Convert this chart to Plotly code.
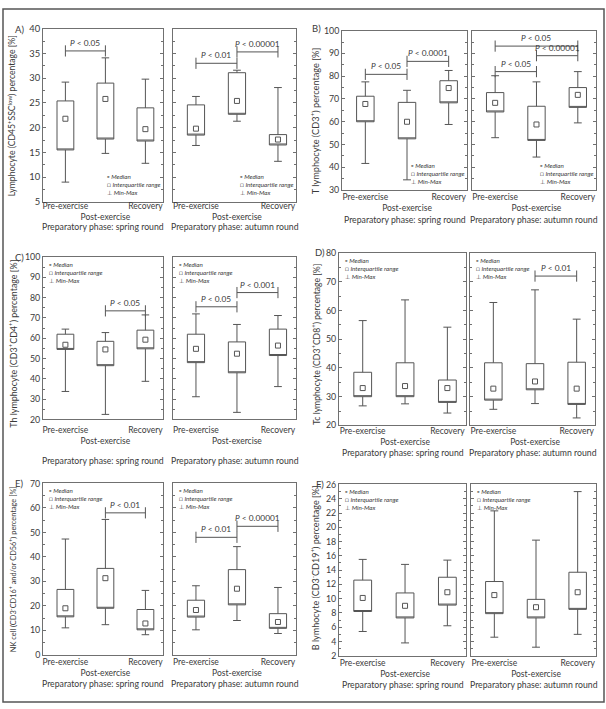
import plotly.graph_objects as go

W, H = 606, 709

# ---------------- data ----------------
categories = ["Pre-exercise", "Post-exercise", "Recovery"]
tick_text = ["Pre-exercise", "<br>Post-exercise", "Recovery"]
round_titles = ["Preparatory phase: spring round", "Preparatory phase: autumn round"]

# A) Lymphocyte (CD45+SSC low)
A_spring_min = [9.0, 14.8, 12.8]
A_spring_q1 = [15.5, 17.7, 17.3]
A_spring_med = [21.8, 25.8, 19.7]
A_spring_q3 = [25.4, 29.0, 24.0]
A_spring_max = [29.2, 34.1, 29.8]
A_autumn_min = [16.4, 21.3, 13.2]
A_autumn_q1 = [18.5, 22.7, 16.5]
A_autumn_med = [19.8, 25.4, 17.6]
A_autumn_q3 = [24.6, 31.1, 18.6]
A_autumn_max = [26.3, 31.6, 28.1]

# B) T lymphocyte (CD3+)
B_spring_min = [41.7, 34.5, 58.8]
B_spring_q1 = [60.0, 52.5, 68.3]
B_spring_med = [67.8, 60.0, 74.8]
B_spring_q3 = [71.2, 68.5, 78.0]
B_spring_max = [77.5, 73.8, 82.5]
B_autumn_min = [53.0, 44.5, 59.5]
B_autumn_q1 = [64.3, 51.8, 66.3]
B_autumn_med = [68.3, 58.8, 71.8]
B_autumn_q3 = [72.8, 66.8, 75.0]
B_autumn_max = [80.2, 77.5, 82.0]

# C) Th lymphocyte (CD3+CD4+)
C_spring_min = [33.8, 22.5, 38.8]
C_spring_q1 = [54.5, 46.5, 54.8]
C_spring_med = [56.8, 54.5, 59.3]
C_spring_q3 = [62.0, 58.5, 64.0]
C_spring_max = [64.5, 62.8, 71.5]
C_autumn_min = [31.2, 23.5, 36.2]
C_autumn_q1 = [48.0, 43.0, 51.5]
C_autumn_med = [54.8, 52.4, 56.4]
C_autumn_q3 = [62.0, 58.2, 64.5]
C_autumn_max = [72.0, 66.8, 71.2]

# D) Tc lymphocyte (CD3+CD8+)
D_spring_min = [26.8, 27.5, 24.3]
D_spring_q1 = [30.0, 30.0, 28.0]
D_spring_med = [33.0, 33.7, 33.0]
D_spring_q3 = [38.5, 41.8, 35.8]
D_spring_max = [56.5, 63.7, 54.2]
D_autumn_min = [25.6, 27.6, 22.6]
D_autumn_q1 = [28.8, 32.4, 27.3]
D_autumn_med = [32.8, 35.3, 32.8]
D_autumn_q3 = [41.8, 41.5, 42.0]
D_autumn_max = [62.8, 67.2, 57.0]

# E) NK cell
E_spring_min = [11.0, 12.3, 8.2]
E_spring_q1 = [15.5, 19.0, 10.2]
E_spring_med = [19.0, 31.3, 12.8]
E_spring_q3 = [26.7, 35.3, 18.5]
E_spring_max = [47.3, 55.3, 26.3]
E_autumn_min = [10.2, 14.0, 8.7]
E_autumn_q1 = [15.4, 20.4, 10.8]
E_autumn_med = [18.3, 27.0, 13.4]
E_autumn_q3 = [22.3, 34.8, 16.8]
E_autumn_max = [28.2, 44.2, 27.5]

# F) B lymphocyte (CD3-CD19+)
F_spring_min = [5.4, 3.8, 6.2]
F_spring_q1 = [8.2, 7.3, 9.1]
F_spring_med = [10.1, 9.0, 10.9]
F_spring_q3 = [12.6, 10.8, 13.0]
F_spring_max = [15.5, 14.8, 15.4]
F_autumn_min = [4.6, 3.2, 5.0]
F_autumn_q1 = [7.9, 7.3, 8.5]
F_autumn_med = [10.5, 8.8, 10.9]
F_autumn_q3 = [12.4, 9.9, 13.7]
F_autumn_max = [22.3, 18.2, 25.0]

# significance brackets: (from category, to category, level, label)
A_spring_sig = [(0, 1, 35.5, "P < 0.05")]
A_autumn_sig = [(0, 1, 33.0, "P < 0.01"), (1, 2, 35.3, "P < 0.00001")]
B_spring_sig = [(0, 1, 80.8, "P < 0.05"), (1, 2, 86.5, "P < 0.0001")]
B_autumn_sig = [(0, 1, 82.0, "P < 0.05"), (1, 2, 89.0, "P < 0.00001"), (0, 2, 93.2, "P < 0.05")]
C_spring_sig = [(1, 2, 73.5, "P < 0.05")]
C_autumn_sig = [(0, 1, 75.5, "P < 0.05"), (1, 2, 82.5, "P < 0.001")]
D_spring_sig = []
D_autumn_sig = [(1, 2, 72.0, "P < 0.01")]
E_spring_sig = [(1, 2, 58.0, "P < 0.01")]
E_autumn_sig = [(0, 1, 48.0, "P < 0.01"), (1, 2, 52.5, "P < 0.00001")]
F_spring_sig = []
F_autumn_sig = []

y_titles = {
    "A": "Lymphocyte (CD45<sup>+</sup>SSC<sup>low</sup>) percentage [%]",
    "B": "T lymphocyte (CD3<sup>+</sup>) percentage [%]",
    "C": "Th lymphocyte (CD3<sup>+</sup>CD4<sup>+</sup>) percentage [%]",
    "D": "Tc lymphocyte (CD3<sup>+</sup>CD8<sup>+</sup>) percentage [%]",
    "E": "NK cell (CD3<sup>-</sup>CD16<sup>+</sup> and/or CD56<sup>+</sup>) percentage [%]",
    "F": "B lymhocyte (CD3<sup>-</sup>CD19<sup>+</sup>) percentage [%]",
}
legend_labels = ["Median", "Interquartile range", "Min-Max"]

data = {
    "A": [(A_spring_min, A_spring_q1, A_spring_med, A_spring_q3, A_spring_max, A_spring_sig),
          (A_autumn_min, A_autumn_q1, A_autumn_med, A_autumn_q3, A_autumn_max, A_autumn_sig)],
    "B": [(B_spring_min, B_spring_q1, B_spring_med, B_spring_q3, B_spring_max, B_spring_sig),
          (B_autumn_min, B_autumn_q1, B_autumn_med, B_autumn_q3, B_autumn_max, B_autumn_sig)],
    "C": [(C_spring_min, C_spring_q1, C_spring_med, C_spring_q3, C_spring_max, C_spring_sig),
          (C_autumn_min, C_autumn_q1, C_autumn_med, C_autumn_q3, C_autumn_max, C_autumn_sig)],
    "D": [(D_spring_min, D_spring_q1, D_spring_med, D_spring_q3, D_spring_max, D_spring_sig),
          (D_autumn_min, D_autumn_q1, D_autumn_med, D_autumn_q3, D_autumn_max, D_autumn_sig)],
    "E": [(E_spring_min, E_spring_q1, E_spring_med, E_spring_q3, E_spring_max, E_spring_sig),
          (E_autumn_min, E_autumn_q1, E_autumn_med, E_autumn_q3, E_autumn_max, E_autumn_sig)],
    "F": [(F_spring_min, F_spring_q1, F_spring_med, F_spring_q3, F_spring_max, F_spring_sig),
          (F_autumn_min, F_autumn_q1, F_autumn_med, F_autumn_q3, F_autumn_max, F_autumn_sig)],
}

# ---------------- layout geometry (pixels) ----------------
panels = {
    "A": dict(xs=[(43, 163), (173, 296)], y=(23, 199), yr=(5, 40), dt=5, so=-4, tf=9.4,
              ytx=12, yty=112, ytf=8.6, lab=(19, 24), xt=224, leg="br"),
    "B": dict(xs=[(342, 467), (472, 596)], y=(25, 187), yr=(30, 100), dt=10, so=-1, tf=8.8,
              ytx=315, yty=117, ytf=9.2, lab=(317, 23), xt=217, leg="br"),
    "C": dict(xs=[(43, 163), (173, 296)], y=(255, 420), yr=(20, 100), dt=10, so=2, tf=8.8,
              ytx=13, yty=343, ytf=8.9, lab=(19, 255), xt=462, leg="tl"),
    "D": dict(xs=[(339, 466), (470, 595)], y=(251, 426), yr=(20, 80), dt=10, so=-3, tf=8.8,
              ytx=316, yty=344, ytf=8.6, lab=(320, 250), xt=454, leg="tl"),
    "E": dict(xs=[(43, 163), (173, 296)], y=(485, 659), yr=(0, 70), dt=10, so=-1, tf=8.8,
              ytx=13, yty=572, ytf=7.4, lab=(19, 485), xt=688, leg="tl"),
    "F": dict(xs=[(339, 466), (471, 596)], y=(486, 660), yr=(2, 26), dt=2, so=-1, tf=8.8,
              ytx=315, yty=571, ytf=9.0, lab=(320, 486), xt=689, leg="tl"),
}

FONT = "Lato, 'Open Sans', sans-serif"
TXT = "#3a3a3a"
LINE = "#707070"
BOXC = "#555555"

fig = go.Figure()
layout = dict(
    width=W, height=H, margin=dict(l=0, r=0, t=0, b=0),
    paper_bgcolor="white", plot_bgcolor="white", showlegend=False,
    font=dict(family=FONT, color=TXT),
)
annotations = []
shapes = []

k = 0
for key in ["A", "B", "C", "D", "E", "F"]:
    p = panels[key]
    y0, y1 = p["y"]
    for side in range(2):
        k += 1
        sfx = "" if k == 1 else str(k)
        mn, q1, md, q3, mx, sig = data[key][side]
        xa, ya = "x" + sfx, "y" + sfx
        x0, x1 = p["xs"][side]
        layout["xaxis" + sfx] = dict(
            domain=[x0 / W, x1 / W], anchor=ya, range=[-0.56, 2.44],
            tickvals=[0, 1, 2], ticktext=tick_text, ticks="", tickangle=0,
            ticklabelstandoff=p["so"],
            showline=True, mirror=True, linecolor=LINE, linewidth=1,
            showgrid=False, zeroline=False, fixedrange=True,
            tickfont=dict(size=8.5, color=TXT, family=FONT),
        )
        layout["yaxis" + sfx] = dict(
            domain=[1 - y1 / H, 1 - y0 / H], anchor=xa, range=list(p["yr"]),
            tick0=p["yr"][0], dtick=p["dt"], ticks="inside", ticklen=3,
            tickcolor=LINE, showline=True, mirror="ticks", linecolor=LINE,
            linewidth=1, showgrid=False, zeroline=False, fixedrange=True,
            showticklabels=(side == 0),
            minor=dict(dtick=p["dt"] / 2, ticks="inside", ticklen=2, tickcolor=LINE),
            tickfont=dict(size=p["tf"], color=TXT, family=FONT),
        )
        # box (IQR + whiskers); median drawn separately as a square marker
        fig.add_trace(go.Box(
            x=[0, 1, 2], q1=q1, median=q1, q3=q3, lowerfence=mn, upperfence=mx,
            width=0.42, whiskerwidth=0.45, fillcolor="white",
            line=dict(color=BOXC, width=1), boxpoints=False,
            xaxis=xa, yaxis=ya, hoverinfo="skip", name=legend_labels[1],
        ))
        fig.add_trace(go.Scatter(
            x=[0, 1, 2], y=md, mode="markers", xaxis=xa, yaxis=ya,
            marker=dict(symbol="square-open", size=5, color=BOXC, line=dict(width=1)),
            name=legend_labels[0], hoverinfo="skip",
        ))
        for (a, b, lev, lab) in sig:
            fig.add_trace(go.Scatter(
                x=[a, b], y=[lev, lev], mode="lines+markers", xaxis=xa, yaxis=ya,
                line=dict(color=BOXC, width=1),
                marker=dict(symbol="line-ns", size=8, color=BOXC, line=dict(width=1, color=BOXC)),
                hoverinfo="skip",
            ))
            annotations.append(dict(
                x=(a + b) / 2, y=lev, xref=xa, yref=ya, text=lab.replace("P", "<i>P</i>", 1),
                showarrow=False, yanchor="bottom", yshift=1,
                font=dict(size=8.3, color=TXT, family=FONT),
            ))
        # legend block
        leg_text = ("▫ <i>" + legend_labels[0] + "</i><br>□ <i>" + legend_labels[1]
                    + "</i><br>⊥ <i>" + legend_labels[2] + "</i>")
        if p["leg"] == "br":
            annotations.append(dict(
                x=0.99, y=0.02, xref=xa + " domain", yref=ya + " domain",
                xanchor="right", yanchor="bottom", align="left", text=leg_text,
                showarrow=False, font=dict(size=6.3, color=TXT, family=FONT),
            ))
        else:
            annotations.append(dict(
                x=0.03, y=0.99, xref=xa + " domain", yref=ya + " domain",
                xanchor="left", yanchor="top", align="left", text=leg_text,
                showarrow=False, font=dict(size=6.3, color=TXT, family=FONT),
            ))
        # group title under each subplot
        annotations.append(dict(
            x=(x0 + x1) / 2 / W, y=1 - p["xt"] / H, xref="paper", yref="paper",
            text=round_titles[side], showarrow=False, xanchor="center", yanchor="middle",
            font=dict(size=8.7, color=TXT, family=FONT),
        ))
    # y title and panel letter
    annotations.append(dict(
        x=p["ytx"] / W, y=1 - p["yty"] / H, xref="paper", yref="paper",
        text=y_titles[key], textangle=-90, showarrow=False,
        xanchor="center", yanchor="middle", font=dict(size=p["ytf"], color=TXT, family=FONT),
    ))
    annotations.append(dict(
        x=p["lab"][0] / W, y=1 - p["lab"][1] / H, xref="paper", yref="paper",
        text=key + ")", showarrow=False, xanchor="center", yanchor="middle",
        font=dict(size=9.5, color=TXT, family=FONT),
    ))

shapes.append(dict(type="rect", xref="paper", yref="paper",
                   x0=3 / W, x1=604 / W, y0=1 - 707 / H, y1=1 - 3 / H,
                   line=dict(color="#555555", width=1.5)))

layout["annotations"] = annotations
layout["shapes"] = shapes
fig.update_layout(**layout)
fig.write_html(
    "out.html",
    config={"displayModeBar": False},
    post_script="document.body.style.margin='0';document.body.style.overflow='hidden';",
)
